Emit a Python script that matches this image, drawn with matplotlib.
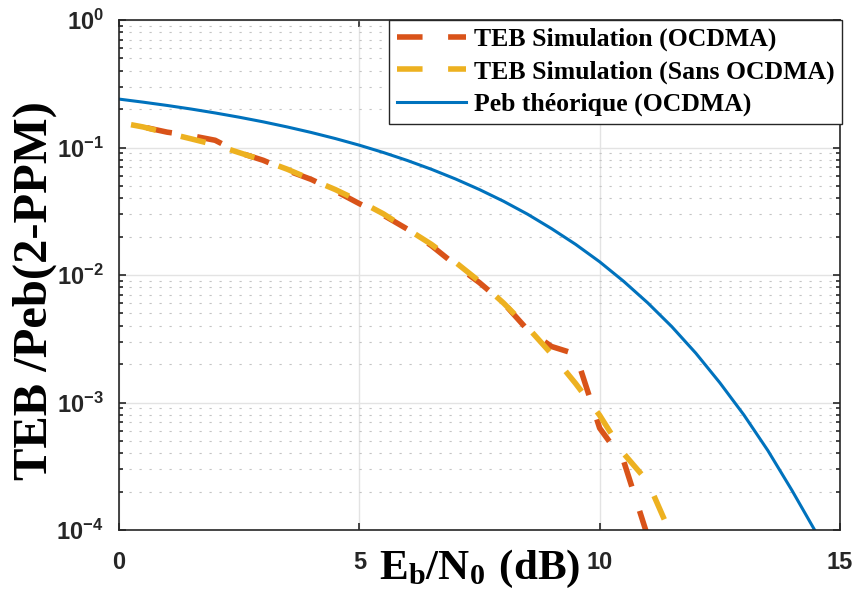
import math
import matplotlib
matplotlib.use('Agg')
import matplotlib.pyplot as plt
from matplotlib.ticker import LogLocator, FuncFormatter, NullFormatter

plt.rcParams['mathtext.fontset'] = 'custom'
plt.rcParams['mathtext.rm'] = 'Liberation Serif:bold'
plt.rcParams['mathtext.bf'] = 'Liberation Sans:bold'
plt.rcParams['xtick.labelsize'] = 17
plt.rcParams['ytick.labelsize'] = 17

# Eb/N0 (dB) and error rates
ebn0_ocdma = [0.25, 0.5, 1.0, 1.5, 2.0, 2.5, 3.0, 3.5, 4.0, 4.5, 5.0, 5.5,
              6.0, 6.5, 7.0, 7.5, 8.0, 8.5, 9.0, 9.5, 10.0, 10.5, 11.0, 11.5]
teb_ocdma = [0.151, 0.145, 0.132, 0.124, 0.114, 0.0912, 0.0794, 0.0661, 0.0562,
             0.0457, 0.0363, 0.0295, 0.0229, 0.0170, 0.0120, 0.00871, 0.00603,
             0.00372, 0.00275, 0.00240, 0.00063, 0.000347, 0.0000891, 0.0000316]

ebn0_sans = [0.25, 0.5, 1.0, 1.5, 2.0, 2.5, 3.0, 3.5, 4.0, 4.5, 5.0, 5.5,
             6.0, 6.5, 7.0, 7.5, 8.0, 8.5, 9.0, 9.5, 10.0, 10.5, 11.0, 11.5, 12.0]
teb_sans = [0.151, 0.145, 0.130, 0.117, 0.105, 0.0912, 0.0794, 0.0676, 0.0562,
            0.0468, 0.0380, 0.0302, 0.0229, 0.0174, 0.0126, 0.00891, 0.00603,
            0.00389, 0.00240, 0.00141, 0.000794, 0.000398, 0.000240, 0.0000891,
            0.0000316]

ebn0_th = [0.0, 0.5, 1.0, 1.5, 2.0, 2.5, 3.0, 3.5, 4.0, 4.5, 5.0, 5.5, 6.0, 6.5,
           7.0, 7.5, 8.0, 8.5, 9.0, 9.5, 10.0, 10.5, 11.0, 11.5, 12.0, 12.5,
           13.0, 13.5, 14.0, 14.5, 15.0]
peb_th = [0.2398, 0.2269, 0.2138, 0.2004, 0.1867, 0.1729, 0.1590, 0.1450,
          0.1312, 0.1176, 0.1043, 0.0914, 0.0791, 0.0675, 0.0567, 0.0468,
          0.0379, 0.0300, 0.0231, 0.0174, 0.0127, 0.00892, 0.00605, 0.00394,
          0.00244, 0.00143, 0.000800, 0.000420, 0.000205, 0.0000960, 0.0000400]

labels = ['TEB Simulation (OCDMA)', 'TEB Simulation (Sans OCDMA)',
          'Peb th\u00e9orique (OCDMA)']

fig = plt.figure(figsize=(8.58, 6.03), dpi=100)
ax = fig.add_axes([0.1387, 0.121, 0.8403, 0.8458])

ax.semilogy(ebn0_ocdma, teb_ocdma, color='#D95319', lw=4.0,
            ls=(6.3, (4.6, 4.6)), label=labels[0])
ax.semilogy(ebn0_sans, teb_sans, color='#EDB120', lw=4.0,
            ls=(0, (4.6, 4.6)), label=labels[1])
ax.semilogy(ebn0_th, peb_th, color='#0072BD', lw=2.2, label=labels[2])

ax.set_xlim(0, 15)
ax.set_ylim(1e-4, 1)
ax.set_xticks([0, 5, 10, 15])
ax.set_xticklabels(['0', '5', '10', '15'], family='Liberation Sans',
                   weight='bold')
ax.yaxis.set_major_locator(LogLocator(base=10, numticks=10))
ax.yaxis.set_minor_locator(LogLocator(base=10, subs=range(2, 10), numticks=20))
ax.yaxis.set_major_formatter(FuncFormatter(
    lambda v, p: r'$\mathbf{10^{%d}}$' % round(math.log10(v))))
ax.yaxis.set_minor_formatter(NullFormatter())

ax.set_axisbelow(True)
ax.grid(True, which='major', color='#e3e3e3', lw=1.0, ls='-')
ax.grid(True, which='minor', axis='y', color='#c4c4c4', lw=0.8, ls=(0, (2, 7)))

for s in ax.spines.values():
    s.set_color('#262626')
    s.set_linewidth(1.2)
ax.tick_params(which='both', direction='in', top=True, right=True,
               color='#262626', width=1.2)
ax.tick_params(which='major', length=5)
ax.tick_params(which='minor', length=3)
ax.tick_params(axis='x', pad=15, labelcolor='#262626')
ax.tick_params(axis='y', pad=11, labelcolor='#262626')

ax.set_ylabel('TEB /Peb(2-PPM)', family='Liberation Serif', weight='bold',
              fontsize=35)
ax.yaxis.set_label_coords(-0.086, 0.47)
ax.set_xlabel(r'$\mathrm{E_b/N_0\ (dB)}$', fontsize=31)
ax.xaxis.set_label_coords(0.5, -0.035)
ax.xaxis.label.set_va('top')

leg = ax.legend(loc='upper right', bbox_to_anchor=(1.003, 1.0),
                borderaxespad=0, fancybox=False, framealpha=1,
                edgecolor='#262626', handlelength=2.7, handletextpad=0.3,
                borderpad=0.3, labelspacing=0.36,
                prop={'family': 'Liberation Serif', 'weight': 'bold', 'size': 18.5})
leg.get_frame().set_linewidth(1.0)
leg.get_lines()[0].set_linestyle((0, (4.6, 4.6)))

fig.savefig('out.png', dpi=100)
